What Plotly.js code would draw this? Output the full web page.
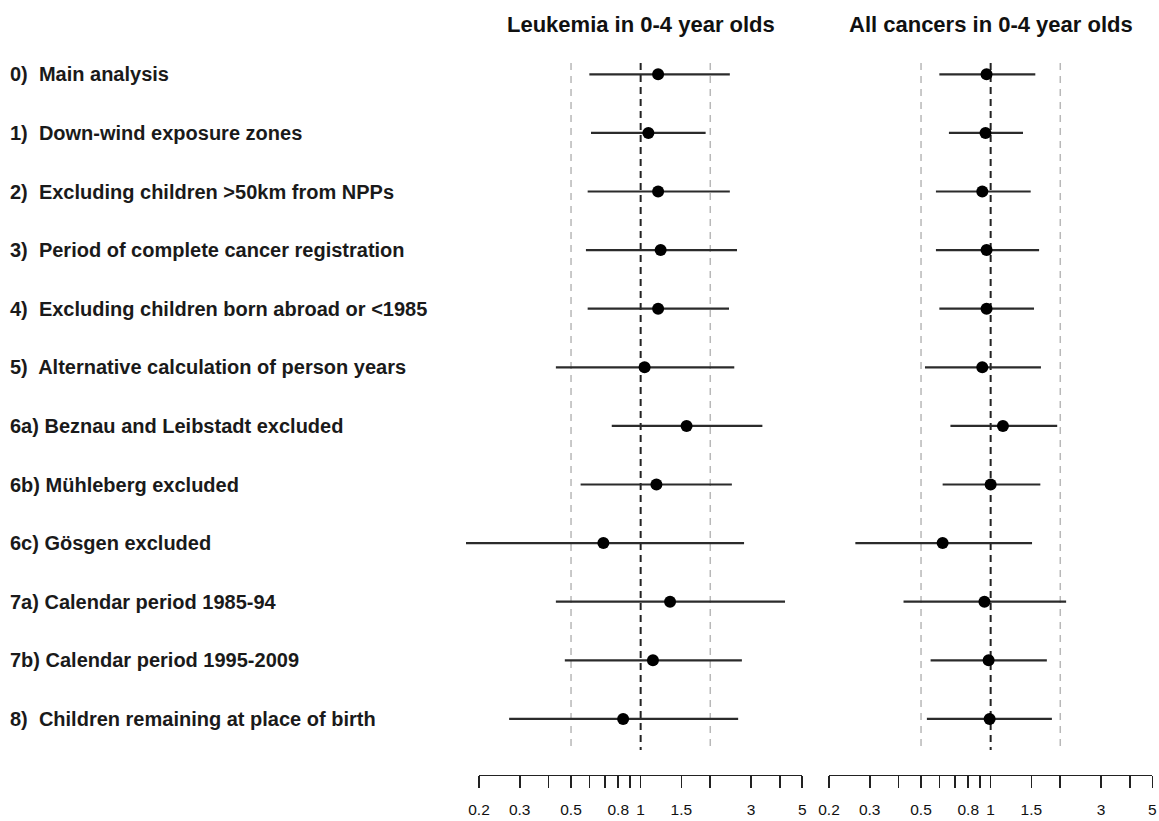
<!DOCTYPE html>
<html>
<head>
<meta charset="utf-8">
<script src="https://cdn.plot.ly/plotly-3.0.1.min.js"></script>
<style>
  html, body { margin: 0; padding: 0; background: #ffffff; }
  #chart { width: 1159px; height: 821px; }
</style>
</head>
<body>
<div id="chart"></div>
<script>
// Sensitivity analyses: rate ratios with 95% confidence intervals
const analysisLabels = [
  "0)\u00a0 Main analysis",
  "1)\u00a0 Down-wind exposure zones",
  "2)\u00a0 Excluding children >50km from NPPs",
  "3)\u00a0 Period of complete cancer registration",
  "4)\u00a0 Excluding children born abroad or <1985",
  "5)\u00a0 Alternative calculation of person years",
  "6a) Beznau and Leibstadt excluded",
  "6b) Mühleberg excluded",
  "6c) Gösgen excluded",
  "7a) Calendar period 1985-94",
  "7b) Calendar period 1995-2009",
  "8)\u00a0 Children remaining at place of birth"
];

const panelTitles = ["Leukemia in 0-4 year olds", "All cancers in 0-4 year olds"];

// Leukemia in 0-4 year olds
const leukRR = [1.19, 1.08, 1.19, 1.22, 1.19, 1.04, 1.58, 1.17, 0.69, 1.34, 1.13, 0.84];
const leukLo = [0.60, 0.61, 0.59, 0.58, 0.59, 0.43, 0.75, 0.55, 0.17, 0.43, 0.47, 0.27];
const leukHi = [2.43, 1.91, 2.43, 2.61, 2.41, 2.54, 3.36, 2.48, 2.80, 4.21, 2.74, 2.64];

// All cancers in 0-4 year olds
const allRR = [0.96, 0.95, 0.92, 0.96, 0.96, 0.92, 1.13, 1.00, 0.62, 0.94, 0.98, 0.99];
const allLo = [0.60, 0.66, 0.58, 0.58, 0.60, 0.52, 0.67, 0.62, 0.26, 0.42, 0.55, 0.53];
const allHi = [1.56, 1.38, 1.49, 1.62, 1.54, 1.65, 1.94, 1.64, 1.51, 2.12, 1.75, 1.84];

// Reference lines and axis ticks
const refLines = [0.5, 1, 2];
const tickVals = [0.2, 0.3, 0.4, 0.5, 0.6, 0.7, 0.8, 0.9, 1, 1.5, 2, 3, 4, 5];
const tickText = ["0.2", "0.3", "", "0.5", "", "", "0.8", "", "1", "1.5", "", "3", "", "5"];

// ---- layout geometry (pixels) ----
const W = 1159, H = 821;
const axisMin = 0.2, axisMax = 5;
const panels = [
  { left: 479, right: 802.3, plotLeft: 466, plotRight: 815.2 },
  { left: 829, right: 1152.3, plotLeft: 816, plotRight: 1159 }
];
const rowTop = 74.3, rowStep = 58.6;
const refTopPx = 63, refBottomPx = 750;
const axisLinePx = 774.7;

const L0 = Math.log10(axisMin), L1 = Math.log10(axisMax);
function dataRange(p) {
  const perDecade = (p.right - p.left) / (L1 - L0);
  return [L0 - (p.left - p.plotLeft) / perDecade, L1 + (p.plotRight - p.right) / perDecade];
}
const rowIdx = analysisLabels.map((_, i) => i);
const yTop = -rowTop / rowStep;
const yBottom = (H - rowTop) / rowStep;
const pxToRow = px => (px - rowTop) / rowStep;

function panelTrace(rr, lo, hi, xa) {
  return {
    type: "scatter", mode: "markers",
    x: rr, y: rowIdx, xaxis: xa, yaxis: "y",
    marker: { color: "#000000", size: 12, symbol: "circle" },
    error_x: {
      type: "data", symmetric: false,
      array: hi.map((h, i) => h - rr[i]),
      arrayminus: lo.map((l, i) => rr[i] - l),
      width: 0, thickness: 2.2, color: "#2b2b2b"
    },
    cliponaxis: false, hoverinfo: "x+y", showlegend: false
  };
}

const data = [
  panelTrace(leukRR, leukLo, leukHi, "x"),
  panelTrace(allRR, allLo, allHi, "x2"),
  { type: "scatter", x: [], y: [], xaxis: "x3", yaxis: "y2", showlegend: false, hoverinfo: "skip" },
  { type: "scatter", x: [], y: [], xaxis: "x4", yaxis: "y2", showlegend: false, hoverinfo: "skip" }
];

// dashed reference lines at 0.5, 1 and 2 (shape x given as data values)
const shapes = [];
["x", "x2"].forEach(xr => {
  refLines.forEach(v => {
    const isOne = v === 1;
    shapes.push({
      type: "line", xref: xr, yref: "y", layer: "below",
      x0: v, x1: v,
      y0: pxToRow(refTopPx), y1: pxToRow(refBottomPx),
      line: isOne ? { color: "#222222", width: 2, dash: "7px,5px" }
                  : { color: "#b8b8b8", width: 1.5, dash: "7px,6px" }
    });
  });
});

const annotations = analysisLabels.map((t, i) => ({
  xref: "paper", yref: "y", x: 8 / W, y: i,
  xanchor: "left", yanchor: "middle", showarrow: false,
  text: t, font: { family: "Liberation Sans, Arial, sans-serif", size: 20, weight: "bold", color: "#1a1a1a" }
}));
panels.forEach((p, k) => {
  annotations.push({
    xref: "paper", yref: "paper",
    x: ((p.left + p.right) / 2) / W, y: 1 - 25 / H,
    xanchor: "center", yanchor: "middle", showarrow: false,
    text: panelTitles[k],
    font: { family: "Liberation Sans, Arial, sans-serif", size: 22, weight: "bold", color: "#111111" }
  });
});

function dataAxis(p) {
  return {
    type: "log", domain: [p.plotLeft / W, p.plotRight / W], range: dataRange(p),
    visible: false, fixedrange: true, anchor: "y"
  };
}
function tickAxis(p) {
  return {
    type: "log", domain: [p.left / W, p.right / W], range: [L0, L1],
    anchor: "y2", showline: true, linecolor: "#222222", linewidth: 1.6,
    ticks: "outside", ticklen: 12, tickwidth: 1.6, tickcolor: "#222222",
    tickmode: "array", tickvals: tickVals, ticktext: tickText,
    ticklabelstandoff: 8,
    tickfont: { family: "Liberation Sans, Arial, sans-serif", size: 15.5, color: "#111111" },
    showgrid: false, zeroline: false, fixedrange: true
  };
}

const axisDomainBottom = (H - axisLinePx) / H;
const layout = {
  width: W, height: H,
  margin: { l: 0, r: 0, t: 0, b: 0 },
  paper_bgcolor: "#ffffff", plot_bgcolor: "rgba(0,0,0,0)",
  showlegend: false,
  xaxis: dataAxis(panels[0]),
  xaxis2: dataAxis(panels[1]),
  xaxis3: tickAxis(panels[0]),
  xaxis4: tickAxis(panels[1]),
  yaxis: { domain: [0, 1], range: [yBottom, yTop], visible: false, fixedrange: true },
  yaxis2: { domain: [axisDomainBottom, axisDomainBottom + 0.02], range: [0, 1], visible: false, fixedrange: true },
  shapes: shapes,
  annotations: annotations
};

Plotly.newPlot("chart", data, layout, { displayModeBar: false, staticPlot: true });
</script>
</body>
</html>
